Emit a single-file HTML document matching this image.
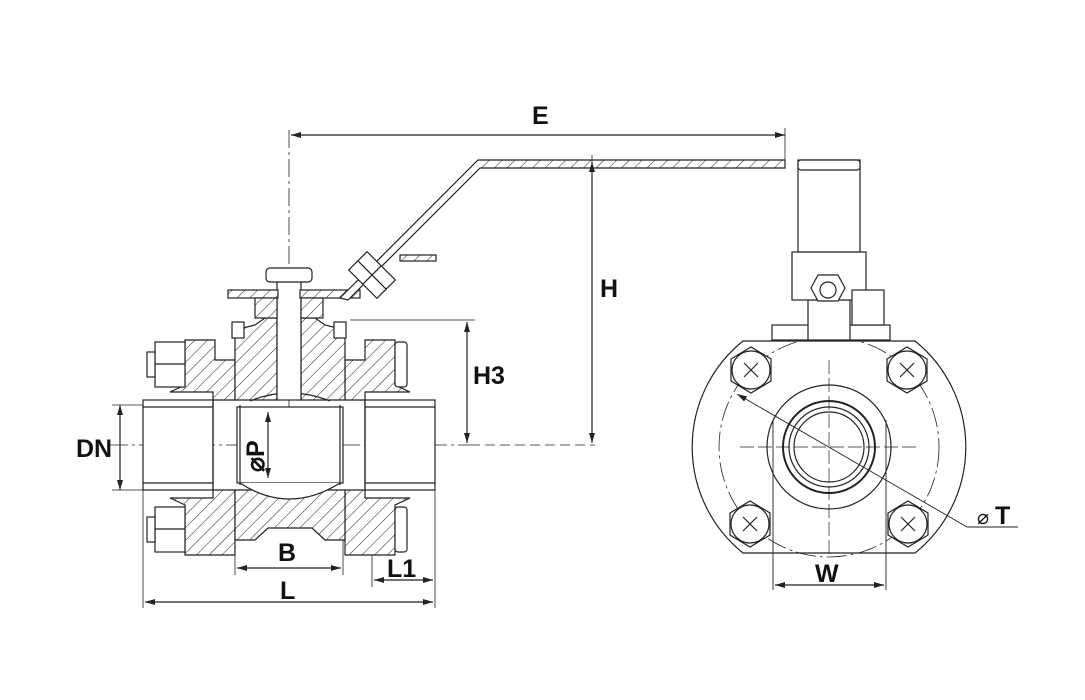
<!DOCTYPE html>
<html><head><meta charset="utf-8"><style>
html,body{margin:0;padding:0;background:#fff;}
svg{display:block;font-family:"Liberation Sans",sans-serif;}
.t{font-weight:bold;font-size:25px;fill:#111;}
</style></head><body>
<svg width="1085" height="700" viewBox="0 0 1085 700" xmlns="http://www.w3.org/2000/svg">
<defs>
<pattern id="h" patternUnits="userSpaceOnUse" width="9" height="9" patternTransform="rotate(45)">
<rect width="9" height="9" fill="#fff"/><line x1="0" y1="0" x2="0" y2="9" stroke="#333" stroke-width="1.1"/>
</pattern>
<marker id="a" markerWidth="10" markerHeight="6" refX="10" refY="3" orient="auto-start-reverse" markerUnits="userSpaceOnUse"><path d="M0,0 L10,3 L0,6 z" fill="#222"/></marker>
<g id="b" fill="none" stroke="#222" stroke-width="1.2"><polygon points="-20,-11 0,-23 20,-11 20,11 0,23 -20,11" fill="#fff"/><circle r="19"/><path d="M-7,-7 L7,7 M7,-7 L-7,7"/></g>
</defs>
<g fill="none" stroke="#222" stroke-width="1.2">
<line x1="110" y1="445" x2="470" y2="445" stroke-dasharray="18,4,3,4" stroke-width="0.8"/>
<line x1="470" y1="445" x2="595" y2="445" stroke-dasharray="10,5" stroke-width="0.8"/>
<line x1="289" y1="130" x2="289" y2="520" stroke-dasharray="18,4,3,4" stroke-width="0.8"/>
<rect x="143" y="400" width="70" height="90" fill="#fff"/>
<rect x="365" y="400" width="70" height="90" fill="#fff"/>
<line x1="143" y1="407" x2="213" y2="407"/><line x1="143" y1="483" x2="213" y2="483"/>
<line x1="365" y1="407" x2="435" y2="407"/><line x1="365" y1="483" x2="435" y2="483"/>
<path d="M185,340 L215,340 L215,360 L235,360 L235,400 L213,400 L213,392 L170,392 L185,385 Z" fill="url(#h)"/>
<path d="M395,340 L365,340 L365,360 L345,360 L345,400 L365,400 L365,392 L410,392 L395,385 Z" fill="url(#h)"/>
<path d="M235,330 L255,325 L265,318 L277,318 L277,400 L235,400 Z" fill="url(#h)"/>
<path d="M345,330 L325,325 L315,318 L301,318 L301,400 L345,400 Z" fill="url(#h)"/>
<path d="M185,555 L215,555 L215,555 L235,555 L235,490 L213,490 L213,498 L170,498 L185,505 Z" fill="url(#h)"/>
<path d="M395,555 L345,555 L345,490 L365,490 L365,498 L410,498 L395,505 Z" fill="url(#h)"/>
<path d="M235,490 L345,490 L345,540 L325,540 L312,528 L268,528 L255,540 L235,540 Z" fill="url(#h)"/>
<rect x="237" y="407" width="106" height="76" fill="#fff"/>
<line x1="240" y1="405" x2="240" y2="485"/><line x1="340" y1="405" x2="340" y2="485"/>
<line x1="213" y1="400" x2="213" y2="490"/><line x1="365" y1="400" x2="365" y2="490"/>
<path d="M240,483 Q289,515 340,483" fill="#fff"/>
<path d="M250,401 Q289,385 330,401"/>
<rect x="155" y="342" width="30" height="45" fill="#fff"/><rect x="147" y="352" width="8" height="25" fill="#fff"/><line x1="155" y1="364" x2="185" y2="364"/>
<rect x="155" y="507" width="30" height="45" fill="#fff"/><rect x="147" y="517" width="8" height="25" fill="#fff"/><line x1="155" y1="529" x2="185" y2="529"/>
<rect x="395" y="342" width="12" height="45" rx="3" fill="#fff"/>
<rect x="395" y="507" width="12" height="45" rx="3" fill="#fff"/>
<rect x="277" y="272" width="24" height="128" fill="#fff"/>
<rect x="266" y="268" width="46" height="14" rx="4" fill="#fff"/>
<rect x="228" y="290" width="50" height="8" fill="url(#h)"/>
<rect x="300" y="290" width="60" height="8" fill="url(#h)"/>
<rect x="255" y="298" width="22" height="20" fill="url(#h)"/>
<rect x="301" y="298" width="22" height="20" fill="url(#h)"/>
<rect x="232" y="322" width="12" height="16" fill="#fff"/><rect x="334" y="322" width="12" height="16" fill="#fff"/>
<path d="M340,298 L478,160 L785,160 L785,168 L480,168 L348,300 Z" fill="url(#h)"/>
<g transform="rotate(45 372 275)"><rect x="352" y="262" width="40" height="26" fill="#fff"/><line x1="352" y1="275" x2="392" y2="275"/><line x1="372" y1="262" x2="372" y2="288"/></g>
<rect x="400" y="255" width="36" height="6" fill="url(#h)"/>
<line x1="120" y1="405" x2="120" y2="490" marker-start="url(#a)" marker-end="url(#a)"/>
<line x1="112" y1="405" x2="143" y2="405" stroke-width="0.8"/><line x1="112" y1="490" x2="143" y2="490" stroke-width="0.8"/>
<line x1="143" y1="490" x2="143" y2="608" stroke-width="0.8"/><line x1="435" y1="490" x2="435" y2="608" stroke-width="0.8"/>
<line x1="145" y1="602" x2="433" y2="602" marker-start="url(#a)" marker-end="url(#a)"/>
<line x1="235" y1="540" x2="235" y2="575" stroke-width="0.8"/><line x1="343" y1="540" x2="343" y2="575" stroke-width="0.8"/>
<line x1="237" y1="568" x2="341" y2="568" marker-start="url(#a)" marker-end="url(#a)"/>
<line x1="372" y1="555" x2="372" y2="587" stroke-width="0.8"/>
<line x1="374" y1="580" x2="433" y2="580" marker-start="url(#a)" marker-end="url(#a)"/>
<line x1="268" y1="412" x2="268" y2="478" marker-start="url(#a)" marker-end="url(#a)"/>
<line x1="350" y1="320" x2="475" y2="320" stroke-width="0.8"/>
<line x1="467" y1="322" x2="467" y2="443" marker-start="url(#a)" marker-end="url(#a)"/>
<line x1="592" y1="162" x2="592" y2="443" marker-start="url(#a)" marker-end="url(#a)"/>
<line x1="592" y1="155" x2="592" y2="168" stroke-width="0.8"/>
<line x1="291" y1="135" x2="785" y2="135" marker-start="url(#a)" marker-end="url(#a)"/>
<line x1="785" y1="128" x2="785" y2="160" stroke-width="0.8"/>
<path d="M743,341 L915,341 A136,136 0 0 1 915,553 L743,553 A136,136 0 0 1 743,341 Z" fill="#fff"/>
<circle cx="829" cy="447" r="110" stroke-dasharray="20,4,3,4" stroke-width="0.8"/>
<circle cx="829" cy="447" r="62"/>
<path d="M773,420 L773,590 M886,420 L886,590" stroke-width="0.9"/>
<circle cx="829" cy="447" r="46" stroke-width="2"/>
<circle cx="829" cy="447" r="40"/><circle cx="829" cy="447" r="35"/>
<line x1="740" y1="447" x2="920" y2="447" stroke-dasharray="14,4" stroke-width="0.7"/>
<line x1="829" y1="360" x2="829" y2="555" stroke-dasharray="14,4" stroke-width="0.7"/>
<line x1="737" y1="394" x2="967" y2="527" marker-start="url(#a)" stroke-width="0.9"/>
<line x1="967" y1="527" x2="1018" y2="527" stroke-width="0.9"/>
<line x1="775" y1="585" x2="884" y2="585" marker-start="url(#a)" marker-end="url(#a)"/>
<rect x="772" y="325" width="40" height="15" fill="#fff"/><rect x="846" y="325" width="44" height="15" fill="#fff"/>
<rect x="808" y="300" width="42" height="40" fill="#fff"/>
<rect x="792" y="252" width="74" height="48" fill="#fff"/>
<rect x="798" y="160" width="62" height="92" fill="#fff"/><rect x="798" y="160" width="62" height="10" rx="3" fill="#fff"/>
<rect x="852" y="290" width="32" height="35" fill="#fff"/>
<polygon points="818,275 838,275 845,288 838,301 818,301 811,288" fill="#fff"/><circle cx="828" cy="290" r="8"/>
</g>
<use href="#b" x="751" y="370"/><use href="#b" x="907" y="370"/><use href="#b" x="750" y="524"/><use href="#b" x="908" y="524"/>
<text class="t" x="532" y="124">E</text>
<text class="t" x="600" y="297">H</text>
<text class="t" x="473" y="384">H3</text>
<text class="t" x="76" y="457">DN</text>
<text class="t" x="278" y="561">B</text>
<text class="t" x="280" y="599">L</text>
<text class="t" x="387" y="577">L1</text>
<text class="t" x="815" y="582">W</text>
<text class="t" x="995" y="524">T</text>
<text x="977" y="524" font-size="20" fill="#111">⌀</text>
<text class="t" transform="translate(264,472) rotate(-90)">⌀P</text>
</svg>
</body></html>
